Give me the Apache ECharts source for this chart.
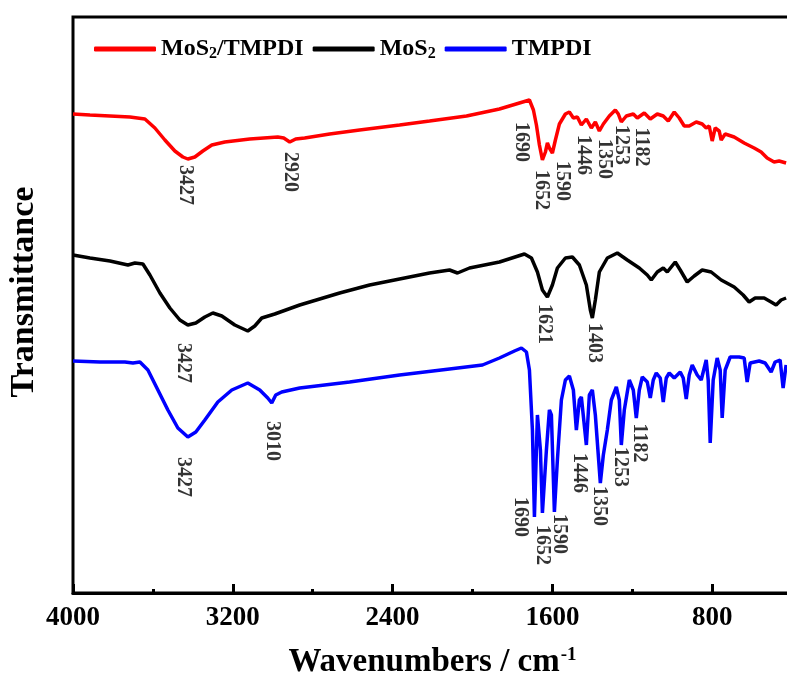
<!DOCTYPE html>
<html>
<head>
<meta charset="utf-8">
<script src="https://cdn.jsdelivr.net/npm/echarts@6/dist/echarts.min.js"></script>
<style>html,body{margin:0;padding:0;background:#fff}#c{width:787px;height:689px}</style>
</head>
<body>
<div id="c"></div>
<script>
// ---- data (wavenumber in cm^-1, transmittance in arbitrary units) ----
const seriesNames = ['MoS2/TMPDI', 'MoS2', 'TMPDI'];
const xTicks = [4000, 3200, 2400, 1600, 800];

const redWn = [4000,3915,3815,3715,3640,3590,3540,3490,3450,3425,3390,3350,3305,3240,3115,2975,2945,2915,2885,2840,2715,2565,2365,2215,2030,1865,1765,1715,1695,1680,1665,1650,1635,1625,1615,1600,1585,1565,1535,1515,1495,1475,1455,1430,1405,1385,1365,1345,1315,1285,1270,1255,1230,1195,1175,1140,1110,1075,1045,1020,990,965,940,915,880,850,830,815,800,785,765,755,735,690,640,590,555,525,490,465,430];
const redT  = [479,478,477,476,474,465,453,442,436,434,436,442,448,451,454,456,455,451,454,455,459,463,468,472,477,484,490,493,483,468,448,433,441,450,445,440,453,469,479,481,475,476,468,474,465,471,462,469,477,483,479,471,477,479,475,480,474,479,477,472,481,475,467,467,471,469,465,467,452,465,462,453,459,456,450,445,441,435,431,432,430];

const blackWn = [4000,3915,3815,3725,3690,3650,3615,3565,3515,3465,3425,3385,3340,3300,3255,3190,3125,3090,3055,2990,2865,2665,2515,2365,2215,2115,2075,2015,1865,1740,1705,1675,1650,1625,1600,1575,1535,1500,1465,1430,1410,1400,1385,1365,1325,1275,1225,1165,1125,1105,1075,1045,1025,985,960,925,890,850,805,755,690,645,615,585,540,505,480,455,430];
const blackT  = [338,335,332,328,330,329,318,300,285,273,268,270,276,280,277,268,262,267,275,279,288,300,308,314,320,323,320,325,331,339,335,321,303,296,308,325,335,336,328,308,283,275,293,321,335,340,333,325,318,313,321,325,321,331,323,311,317,323,321,313,306,298,291,295,295,291,288,293,295];

const blueWn = [4000,3865,3740,3700,3665,3625,3575,3525,3475,3425,3385,3340,3275,3205,3125,3065,3025,3005,2985,2955,2865,2615,2365,2115,1950,1865,1790,1755,1730,1715,1700,1690,1675,1660,1650,1630,1615,1605,1590,1575,1555,1535,1515,1495,1480,1465,1455,1430,1415,1400,1385,1360,1345,1325,1305,1280,1265,1255,1240,1215,1195,1180,1165,1150,1125,1110,1095,1080,1060,1045,1030,1015,990,960,945,930,915,900,875,855,830,820,810,795,775,760,750,735,710,665,640,625,610,565,535,505,485,460,445,430];
const blueT  = [232,231,231,230,231,223,203,183,165,156,161,173,191,203,210,203,195,190,198,201,205,211,218,224,228,235,242,245,241,223,163,76,178,143,80,143,183,178,81,133,193,213,217,203,163,193,196,148,198,203,178,110,138,163,193,206,193,148,183,213,203,175,203,216,211,195,213,220,215,191,215,220,215,221,215,194,218,228,218,213,233,213,150,213,235,223,175,223,236,236,235,211,230,232,230,221,231,233,205,228];

// peak annotations: [wavenumber, transmittance, text]
const redPeaks = [[3440,408,'3427'],[2915,421,'2920'],[1755,451,'1690'],[1655,403,'1652'],[1550,412,'1590'],[1445,438,'1446'],[1340,434,'1350'],[1255,448,'1253'],[1155,446,'1182']];
const blackPeaks = [[3450,230,'3427'],[1640,269,'1621'],[1390,250,'1403']];
const bluePeaks = [[3450,116,'3427'],[3005,152,'3010'],[1760,76,'1690'],[1650,48,'1652'],[1565,59,'1590'],[1465,120,'1446'],[1365,87,'1350'],[1260,126,'1253'],[1165,150,'1182']];

const colors = ['#ff0000', '#000000', '#0000ff'];
const FONT = '"Liberation Serif", "Times New Roman", serif';

const zip = (a, b) => a.map((v, i) => [v, b[i]]);
const lineData = [zip(redWn, redT), zip(blackWn, blackT), zip(blueWn, blueT)];
const peakSets = [redPeaks, blackPeaks, bluePeaks];

const chart = echarts.init(document.getElementById('c'), null, {renderer: 'canvas'});

const series = [];
seriesNames.forEach((name, i) => {
  series.push({
    name: name, type: 'line', data: lineData[i], symbol: 'none', smooth: false,
    lineStyle: {color: colors[i], width: 3.5}, itemStyle: {color: colors[i]}, z: 5 - i
  });
});
peakSets.forEach((set) => {
  series.push({
    type: 'scatter', symbolSize: 0, silent: true, z: 10,
    data: set.map(p => ({value: [p[0], p[1]], label: {formatter: p[2]}})),
    label: {show: true, position: 'inside', rotate: -90, color: '#000',
      fontFamily: FONT, fontWeight: 'bold', fontSize: 20}
  });
});

chart.setOption({
  animation: false,
  backgroundColor: '#fff',
  grid: {left: 73, top: 17, bottom: 96, right: -85, outerBoundsMode: 'none', containLabel: false,
    show: true, borderColor: '#000', borderWidth: 3, backgroundColor: 'transparent'},
  legend: {
    data: seriesNames, left: 89, top: 32, itemWidth: 62, itemHeight: 5, itemGap: 9,
    icon: 'roundRect',
    formatter: (n) => n.replace('MoS2', 'MoS{sub|2}'),
    textStyle: {fontFamily: FONT, fontWeight: 'bold', fontSize: 24, color: '#000',
      rich: {sub: {fontFamily: FONT, fontWeight: 'bold', fontSize: 16, verticalAlign: 'bottom', padding: [10, 0, 0, 0]}}}
  },
  xAxis: {
    type: 'value', inverse: true, min: 0, max: 4000, interval: 800,
    name: 'Wavenumbers / cm{sup|-1}', nameLocation: 'middle', nameGap: 53,
    nameTextStyle: {fontFamily: FONT, fontWeight: 'bold', fontSize: 33, color: '#000', padding: [0, 80, 0, 0],
      rich: {sup: {fontFamily: FONT, fontWeight: 'bold', fontSize: 19, verticalAlign: 'top', padding: [0, 0, 14, 1]}}},
    axisLine: {show: true, lineStyle: {color: '#000', width: 3}},
    axisTick: {show: true, inside: true, length: 9, lineStyle: {color: '#000', width: 3}},
    minorTick: {show: true, splitNumber: 2, length: 4, lineStyle: {color: '#000', width: 3}},
    axisLabel: {margin: 12, fontFamily: FONT, fontWeight: 'bold', fontSize: 27, color: '#000',
      formatter: (v) => xTicks.indexOf(v) >= 0 ? String(v) : ''},
    splitLine: {show: false}
  },
  yAxis: {
    type: 'value', min: 0, max: 576,
    name: 'Transmittance', nameLocation: 'middle', nameGap: 32, nameRotate: 90,
    nameTextStyle: {fontFamily: FONT, fontWeight: 'bold', fontSize: 34, color: '#000', padding: [0, 0, 0, 26]},
    axisLine: {show: true, lineStyle: {color: '#000', width: 3}},
    axisTick: {show: false}, axisLabel: {show: false}, splitLine: {show: false}
  },
  series: series
});
</script>
</body>
</html>
